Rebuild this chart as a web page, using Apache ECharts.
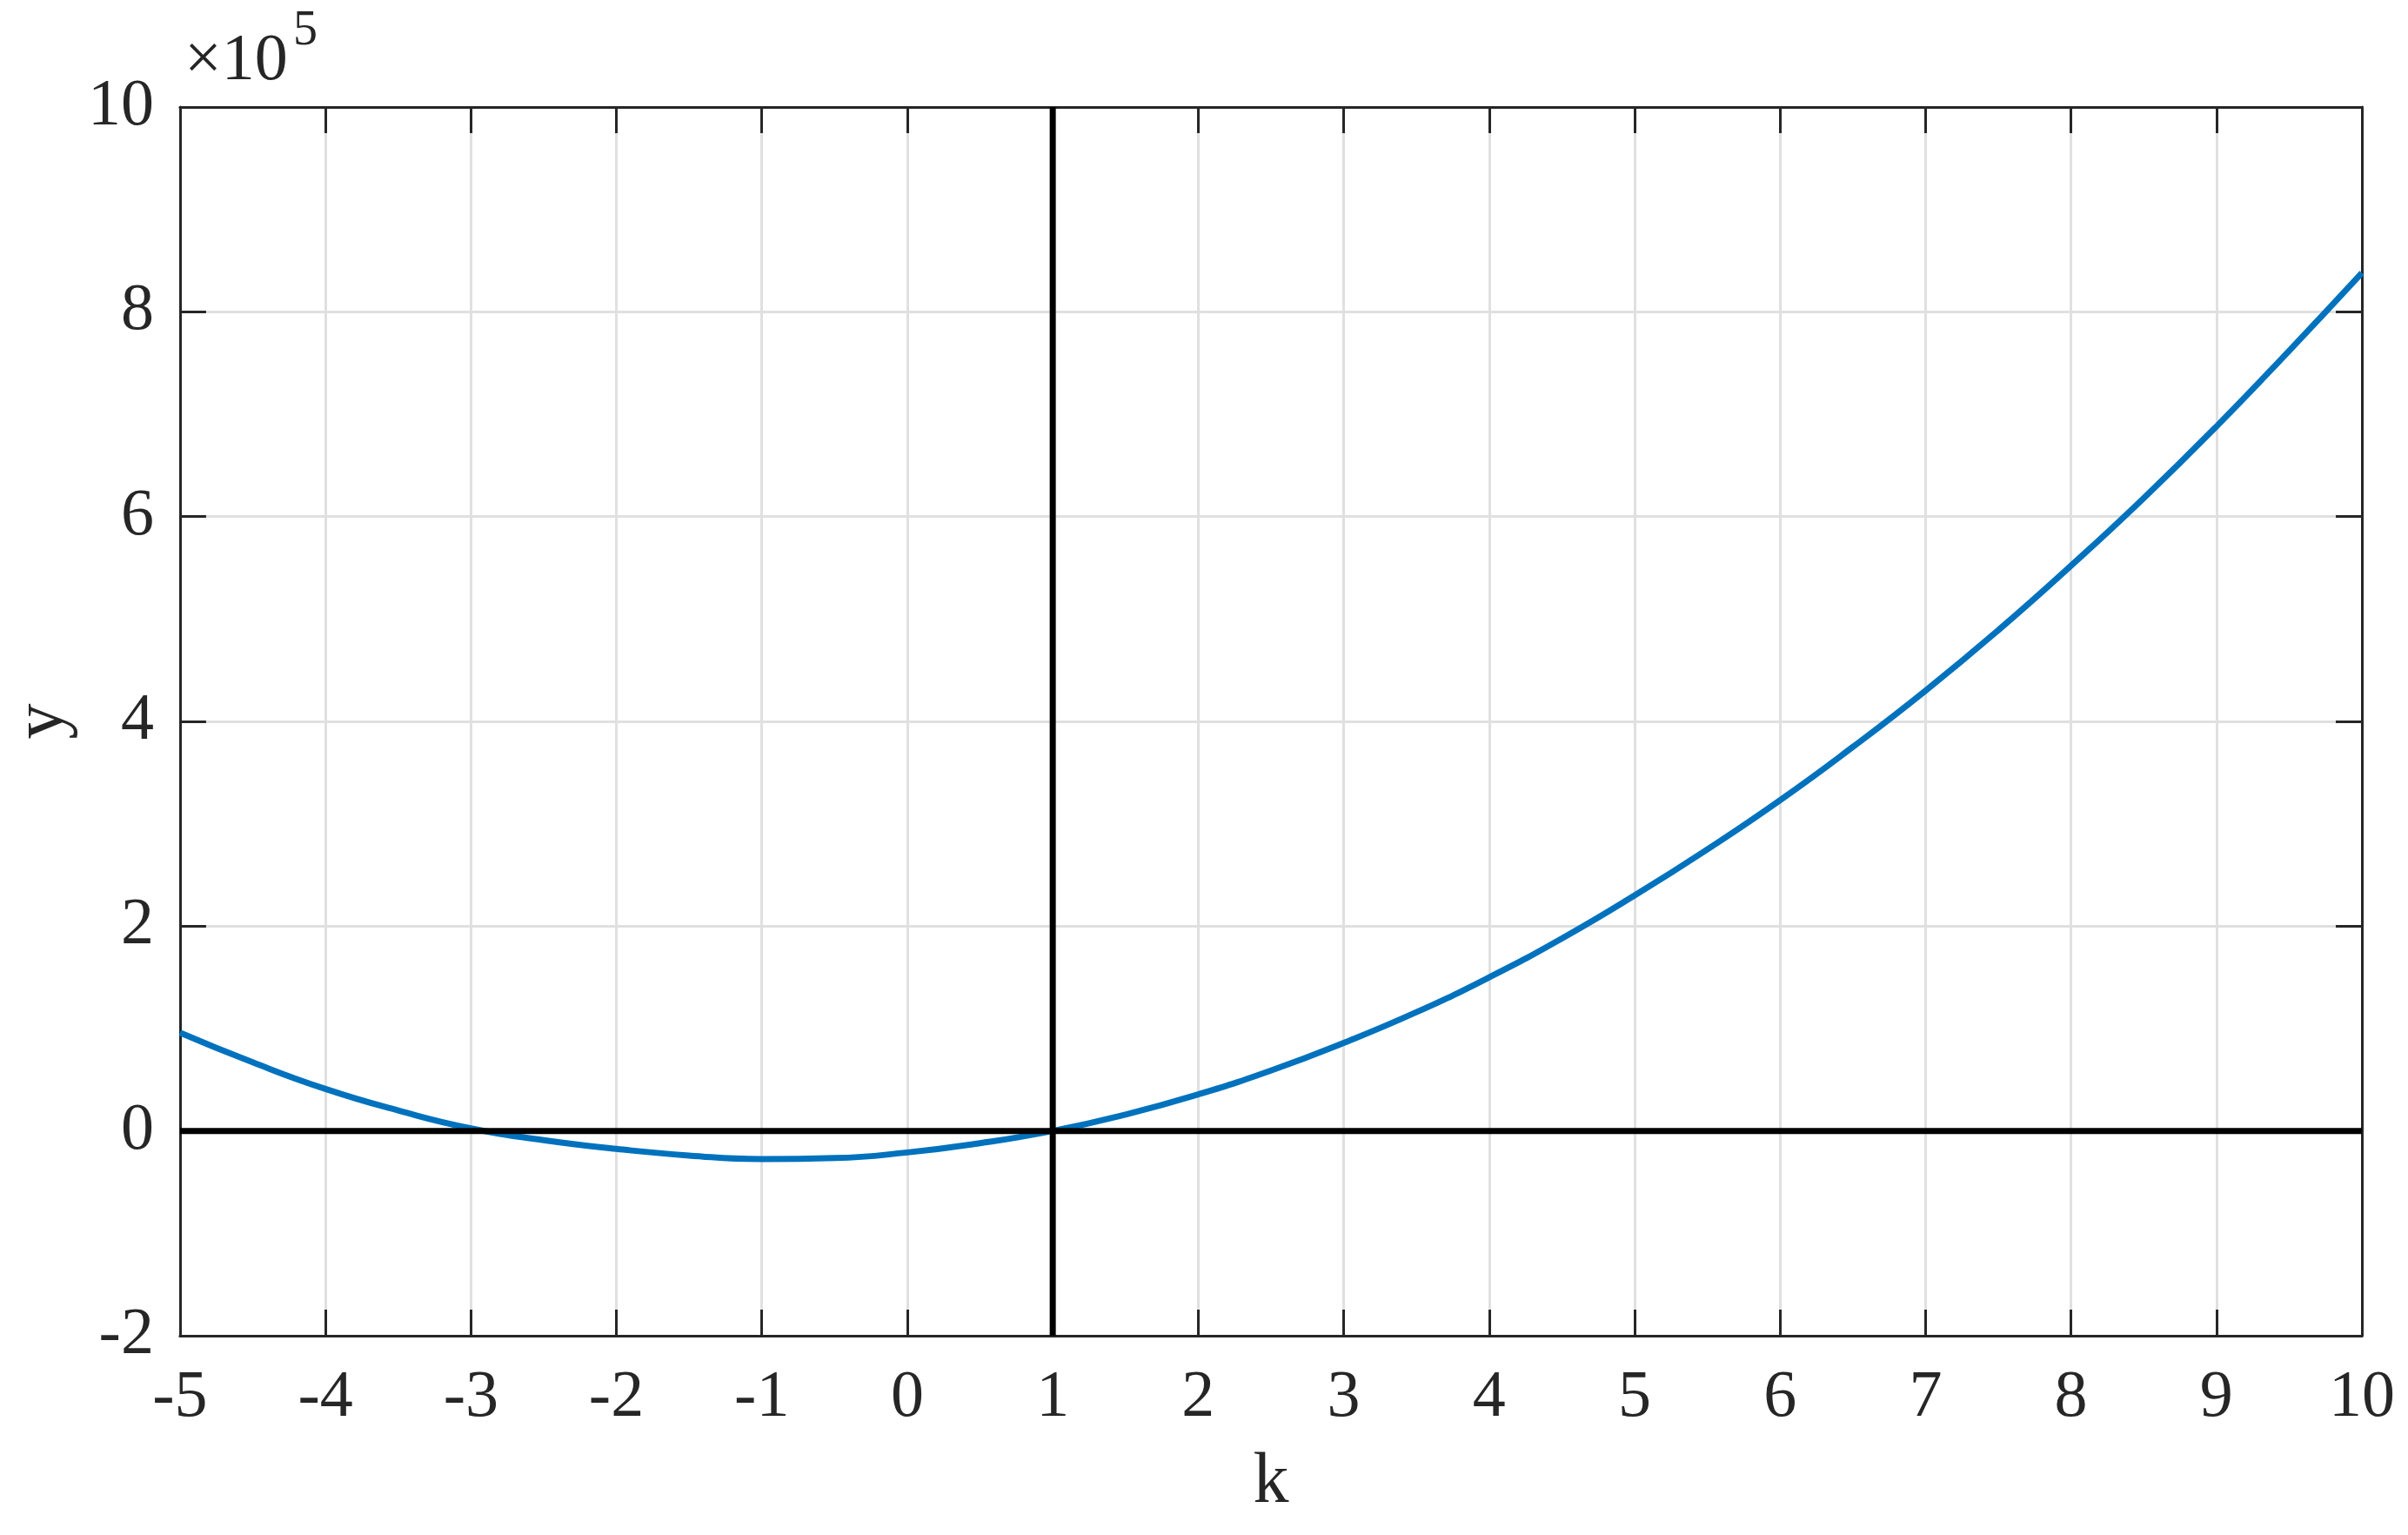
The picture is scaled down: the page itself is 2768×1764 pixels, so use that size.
<!DOCTYPE html>
<html>
<head>
<meta charset="utf-8">
<script src="https://cdn.jsdelivr.net/npm/echarts@6/dist/echarts.min.js"></script>
<style>html,body{margin:0;padding:0;background:#fff}#c{width:2768px;height:1764px}</style>
</head>
<body>
<div id="c"></div>
<script>
// k values (x) and y values
const kValues = [-5, -4.5, -4, -3.5, -3, -2.5, -2, -1.5, -1, -0.5, 0, 0.5, 1, 1.5, 2, 2.5, 3, 3.5, 4, 4.5, 5, 5.5, 6, 6.5, 7, 7.5, 8, 8.5, 9, 9.5, 10];
const yValues = [96000, 67000, 41000, 20000, 2500, -9000, -17500, -24000, -27500, -26500, -21000, -12000, 0, 16000, 35700, 59000, 86000, 116000, 150000, 188000, 230000, 275000, 323000, 375000, 430000, 489000, 552000, 618000, 688000, 762000, 838000];
// reference lines: vertical at k = 1, horizontal at y = 0
const refK = 1;
const refY = 0;
// axis ranges
const xMin = -5, xMax = 10, xStep = 1;
const yMin = -200000, yMax = 1000000, yStep = 200000;
const yExponent = 5;

const FONT = '"Liberation Serif", "DejaVu Serif", serif';
const TXT = '#262626';

const curve = kValues.map((k, i) => [k, yValues[i]]);
const vLine = [[refK, yMin], [refK, yMax]];
const hLine = [[xMin, refY], [xMax, refY]];

const chart = echarts.init(document.getElementById('c'), null, {renderer: 'canvas'});

const axisLine = {show: true, onZero: false, lineStyle: {color: TXT, width: 3}};
const tick = {show: true, inside: true, length: 30, lineStyle: {color: TXT, width: 3}};

chart.setOption({
  animation: false,
  backgroundColor: '#fff',
  grid: {left: 204, right: 53, top: 123, bottom: 229, containLabel: false},
  xAxis: [{
    type: 'value', min: xMin, max: xMax, interval: xStep, position: 'bottom',
    axisLine, axisTick: tick,
    axisLabel: {margin: 34, fontSize: 76, fontFamily: FONT, color: TXT},
    splitLine: {show: true, lineStyle: {color: '#e0e0e0', width: 3}},
    name: 'k', nameLocation: 'middle', nameGap: 128,
    nameTextStyle: {fontSize: 82, fontFamily: FONT, color: TXT}
  }, {
    type: 'value', min: xMin, max: xMax, interval: xStep, position: 'top',
    axisLine, axisTick: tick, axisLabel: {show: false}, splitLine: {show: false}
  }],
  yAxis: [{
    type: 'value', min: yMin, max: yMax, interval: yStep, position: 'left',
    axisLine, axisTick: tick,
    axisLabel: {margin: 30, fontSize: 76, fontFamily: FONT, color: TXT,
      formatter: v => String(Math.round(v / Math.pow(10, yExponent)))},
    splitLine: {show: true, lineStyle: {color: '#e0e0e0', width: 3}},
    name: 'y', nameLocation: 'middle', nameGap: 112, nameRotate: 90,
    nameTextStyle: {fontSize: 82, fontFamily: FONT, color: TXT}
  }, {
    type: 'value', min: yMin, max: yMax, interval: yStep, position: 'right',
    axisLine, axisTick: tick, axisLabel: {show: false}, splitLine: {show: false}
  }],
  graphic: [
    {type: 'text', left: 212, top: 33, style: {text: '×10', font: '76px ' + FONT, fill: TXT}},
    {type: 'text', left: 337, top: 8, style: {text: String(yExponent), font: '56px ' + FONT, fill: TXT}}
  ],
  series: [{
    type: 'line', data: curve, smooth: true, symbol: 'none', z: 2,
    lineStyle: {color: '#0072BD', width: 7}
  }, {
    type: 'line', data: vLine, symbol: 'none', z: 3,
    lineStyle: {color: '#000', width: 7}
  }, {
    type: 'line', data: hLine, symbol: 'none', z: 3,
    lineStyle: {color: '#000', width: 7}
  }]
});
</script>
</body>
</html>
